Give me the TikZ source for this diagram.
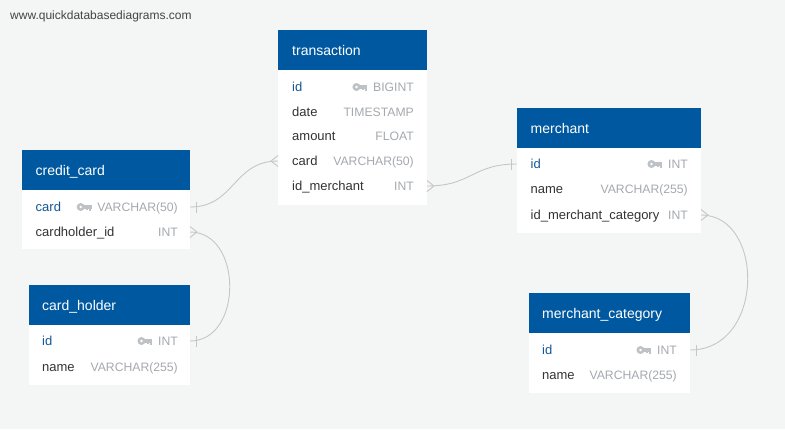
\documentclass[tikz,border=0pt]{standalone}
\usepackage{fontspec}
\setmainfont{Liberation Sans}
\usetikzlibrary{calc}
\definecolor{bgc}{RGB}{244,245,245}
\definecolor{hdrblue}{RGB}{0,89,160}
\definecolor{pkc}{RGB}{19,88,150}
\definecolor{fldc}{RGB}{51,51,51}
\definecolor{typc}{RGB}{165,169,174}
\definecolor{keyc}{RGB}{190,194,198}
\definecolor{relc}{RGB}{198,198,198}
\definecolor{wmc}{RGB}{68,68,68}
\newcommand\keyicon[1]{%
  \begin{scope}[shift={(#1)}]
    \fill[keyc] (-11,0) circle (4);
    \fill[white] (-11,0) circle (1.4);
    \fill[keyc] (-8,-1.6) rectangle (0,1.6);
    \fill[keyc] (-2.6,0) rectangle (-0.4,3.8);
    \fill[keyc] (-5.4,0) rectangle (-3.6,3);
  \end{scope}}
\newcommand\onemark[2]{\draw[rel] ($(#1)+(#2*6,-5.5)$) -- ($(#1)+(#2*6,5.5)$);}
\newcommand\manymark[2]{\draw[rel] ($(#1)+(0,-5.5)$) -- ($(#1)+(#2*7,0)$) -- ($(#1)+(0,5.5)$);}
\begin{document}
\begin{tikzpicture}[x=1pt,y=-1pt,
  hdr/.style={fill=hdrblue, draw=none, anchor=north west, minimum height=40pt, inner sep=0pt, outer sep=0pt},
  bodybox/.style={fill=white, draw=none, anchor=north west, inner sep=0pt, outer sep=0pt},
  title/.style={anchor=base west, text=white, font=\fontsize{14}{16}\selectfont, inner sep=0pt},
  fld/.style={anchor=base west, text=fldc, font=\fontsize{13}{15}\selectfont, inner sep=0pt},
  pkf/.style={fld, text=pkc},
  typ/.style={anchor=base east, text=typc, font=\fontsize{12.2}{14}\selectfont, inner sep=0pt},
  rel/.style={draw=relc, line width=0.9pt},
  wm/.style={anchor=base west, text=wmc, font=\fontsize{12}{14}\selectfont, inner sep=0pt}]
\fill[bgc] (0,0) rectangle (785,429);
\useasboundingbox (0,0) rectangle (785,429);

\node[wm] (watermark) at (10,19.5) {www.quickdatabasediagrams.com};

% ---------- transaction ----------
\node[hdr, minimum width=149pt] (txh) at (278,30) {};
\node[bodybox, minimum width=149pt, minimum height=135pt] (txb) at (278,70) {};
\node[title] (txt) at (292,55) {transaction};
\node[pkf] (tx1n) at (292,91.5) {id};
\node[typ] (tx1t) at (414,91.5) {BIGINT};
\keyicon{$(tx1t.base west)+(-5.5,-4.5)$}
\node[fld] (tx2n) at (292,116.5) {date};
\node[typ] (tx2t) at (414,116.5) {TIMESTAMP};
\node[fld] (tx3n) at (292,140.5) {amount};
\node[typ] (tx3t) at (414,140.5) {FLOAT};
\node[fld] (tx4n) at (292,165.5) {card};
\node[typ] (tx4t) at (414,165.5) {VARCHAR(50)};
\node[fld] (tx5n) at (292,190.5) {id\_merchant};
\node[typ] (tx5t) at (414,190.5) {INT};

% ---------- credit_card ----------
\node[hdr, minimum width=168pt] (cch) at (22,150) {};
\node[bodybox, minimum width=168pt, minimum height=59pt] (ccb) at (22,190) {};
\node[title] (cct) at (35.5,175) {credit\_card};
\node[pkf] (cc1n) at (35.5,211.5) {card};
\node[typ] (cc1t) at (178,211.5) {VARCHAR(50)};
\keyicon{$(cc1t.base west)+(-5.5,-4.5)$}
\node[fld] (cc2n) at (35.5,236.5) {cardholder\_id};
\node[typ] (cc2t) at (178,236.5) {INT};

% ---------- card_holder ----------
\node[hdr, minimum width=161pt] (chh) at (29,285) {};
\node[bodybox, minimum width=161pt, minimum height=60pt] (chb) at (29,325) {};
\node[title] (cht) at (42,310) {card\_holder};
\node[pkf] (ch1n) at (42,345.5) {id};
\node[typ] (ch1t) at (178,345.5) {INT};
\keyicon{$(ch1t.base west)+(-5.5,-4.5)$}
\node[fld] (ch2n) at (42,371.5) {name};
\node[typ] (ch2t) at (178,371.5) {VARCHAR(255)};

% ---------- merchant ----------
\node[hdr, minimum width=184pt] (mrh) at (517,108) {};
\node[bodybox, minimum width=184pt, minimum height=85pt] (mrb) at (517,148) {};
\node[title] (mrt) at (530.5,133) {merchant};
\node[pkf] (mr1n) at (530.5,168.5) {id};
\node[typ] (mr1t) at (688,168.5) {INT};
\keyicon{$(mr1t.base west)+(-5.5,-4.5)$}
\node[fld] (mr2n) at (530.5,193.5) {name};
\node[typ] (mr2t) at (688,193.5) {VARCHAR(255)};
\node[fld] (mr3n) at (530.5,219.5) {id\_merchant\_category};
\node[typ] (mr3t) at (688,219.5) {INT};

% ---------- merchant_category ----------
\node[hdr, minimum width=161pt] (mch) at (529,293) {};
\node[bodybox, minimum width=161pt, minimum height=60pt] (mcb) at (529,333) {};
\node[title] (mct) at (542,318) {merchant\_category};
\node[pkf] (mc1n) at (542,354.5) {id};
\node[typ] (mc1t) at (677,354.5) {INT};
\keyicon{$(mc1t.base west)+(-5.5,-4.5)$}
\node[fld] (mc2n) at (542,379.5) {name};
\node[typ] (mc2t) at (677,379.5) {VARCHAR(255)};

% ---------- connector end points ----------
\coordinate (cc-card) at (ccb.east |- 0,207);
\coordinate (cc-chid) at (ccb.east |- 0,232);
\coordinate (ch-id) at (chb.east |- 0,341);
\coordinate (tx-card) at (txb.west |- 0,161);
\coordinate (tx-idm) at (txb.east |- 0,186);
\coordinate (mr-id) at (mrb.west |- 0,164);
\coordinate (mr-idmc) at (mrb.east |- 0,215);
\coordinate (mc-id) at (mcb.east |- 0,350);

% credit_card.card -- transaction.card
\draw[rel] (cc-card) .. controls +(45,0) and +(-45,0) .. (tx-card);
\onemark{cc-card}{1}
\manymark{tx-card}{-1}
% transaction.id_merchant -- merchant.id
\draw[rel] (tx-idm) .. controls +(45,0) and +(-45,0) .. (mr-id);
\manymark{tx-idm}{1}
\onemark{mr-id}{-1}
% credit_card.cardholder_id -- card_holder.id
\draw[rel] (cc-chid) .. controls +(53,0) and +(53,0) .. (ch-id);
\manymark{cc-chid}{1}
\onemark{ch-id}{1}
% merchant.id_merchant_category -- merchant_category.id
\draw[rel] (mr-idmc) .. controls +(64,0) and +(75,0) .. (mc-id);
\manymark{mr-idmc}{1}
\onemark{mc-id}{1}
\end{tikzpicture}
\end{document}
